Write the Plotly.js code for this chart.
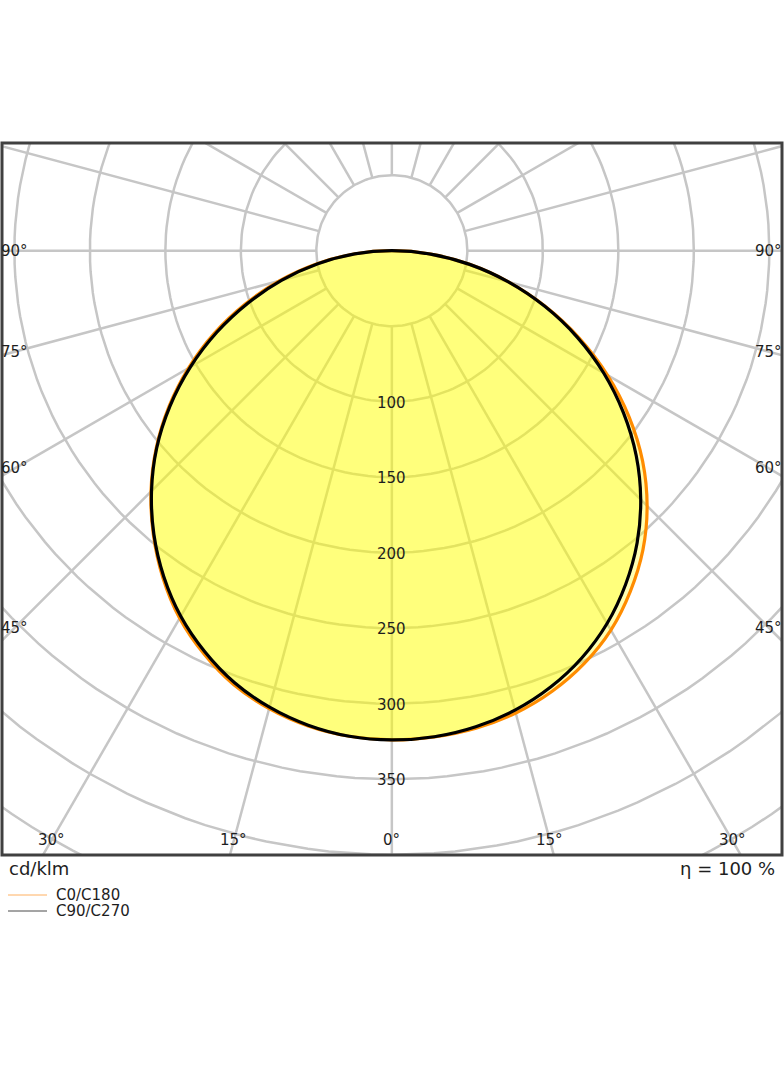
<!DOCTYPE html>
<html>
<head>
<meta charset="utf-8">
<script src="https://cdn.plot.ly/plotly-3.0.1.min.js"></script>
<style>
  html, body { margin: 0; padding: 0; background: #fff; }
</style>
</head>
<body>
<div id="graph" style="width:784px;height:1066px;"></div>
<script>
// Luminous intensity distribution, cd/klm
const GAMMA = [0, 5, 10, 15, 20, 25, 30, 35, 40, 45, 50, 55, 60, 65, 70, 75, 80, 85, 90];
const C0   = [324, 323.2, 321.1, 317, 310.5, 301.6, 290.1, 275.4, 258.7, 239.1, 216.8, 191.8, 165, 136.9, 108.3, 79.9, 52.3, 25.7, 0];
const C180 = [324, 322.8, 319.6, 314, 306, 294.6, 281.1, 264.4, 245.7, 225.6, 203.8, 180.3, 155.5, 129.9, 103.3, 76.9, 50.8, 25.2, 0];
const C90  = [324, 323.1, 320.1, 315, 307.5, 297.6, 285.1, 269.9, 252.7, 233.1, 211.3, 187.3, 162, 135.4, 107.8, 79.9, 52.3, 25.7, 0];
const C270 = [324, 322.8, 319.1, 313, 304.5, 293.1, 279.6, 263.4, 245.2, 225.1, 203.3, 179.3, 154, 127.9, 101.3, 75.4, 49.8, 24.7, 0];

// polar grid
const GRID_RADII = [50, 100, 150, 200, 250, 300, 350, 400, 450, 500, 550];
const GRID_ANGLES = [0, 15, 30, 45, 60, 75, 90, 105, 120, 135, 150, 165, 180,
                     195, 210, 225, 240, 255, 270, 285, 300, 315, 330, 345];
const RADIAL_LABELS = [100, 150, 200, 250, 300, 350];
const BOTTOM_ANGLE_LABELS = [0, 15, 30];
const SIDE_ANGLE_LABELS = [45, 60, 75, 90];
const UNIT_TEXT = 'cd/klm';
const ETA = 100;

const GRAPHDIV = document.getElementById('graph');
const GRID_COLOR = '#c6c6c6';
const TEXT_COLOR = '#1e1e1e';
const FONT = 'DejaVu Sans, sans-serif';

// visible window in cd/klm (origin at the lamp, gamma 0 pointing down)
const X_RANGE = [-258.2, 258.4];
const Y_RANGE = [-400.2, 71.3];

const rad = d => d * Math.PI / 180;

// gamma measured from nadir, side = -1 left half, +1 right half
function to_xy(gammas, values, side) {
    let X = [], Y = [];
    for (let i = 0; i < gammas.length; i++) {
        X.push(side * values[i] * Math.sin(rad(gammas[i])));
        Y.push(-values[i] * Math.cos(rad(gammas[i])));
    }
    return {X, Y};
}

// closed curve: left half from 90 down to 0, then right half up to 90
function plane_curve(leftValues, rightValues) {
    let left = to_xy(GAMMA.slice().reverse(), leftValues.slice().reverse(), -1);
    let right = to_xy(GAMMA, rightValues, 1);
    return {
        X: left.X.concat(right.X.slice(1)),
        Y: left.Y.concat(right.Y.slice(1))
    };
}

let data = [];

// grid circles
let gx = [], gy = [];
for (let r of GRID_RADII) {
    for (let a = 0; a <= 360; a += 2) {
        gx.push(r * Math.sin(rad(a)));
        gy.push(-r * Math.cos(rad(a)));
    }
    gx.push(null);
    gy.push(null);
}
// radial lines start on the 50 circle
let r0 = GRID_RADII[0], r1 = 1000;
for (let a of GRID_ANGLES) {
    gx.push(r0 * Math.sin(rad(a)), r1 * Math.sin(rad(a)), null);
    gy.push(-r0 * Math.cos(rad(a)), -r1 * Math.cos(rad(a)), null);
}
data.push({
    x: gx, y: gy,
    mode: 'lines',
    line: {color: GRID_COLOR, width: 2.5},
    hoverinfo: 'skip',
    showlegend: false
});

// C0/C180 then C90/C270 on top
let orange = plane_curve(C180, C0);
let black = plane_curve(C270, C90);
data.push({
    x: orange.X, y: orange.Y,
    mode: 'lines',
    fill: 'toself',
    fillcolor: 'rgba(255,255,0,0.3)',
    line: {color: '#ff8c00', width: 3.2, shape: 'spline', smoothing: 1},
    hoverinfo: 'skip',
    showlegend: false
});
data.push({
    x: black.X, y: black.Y,
    mode: 'lines',
    fill: 'toself',
    fillcolor: 'rgba(255,255,0,0.3)',
    line: {color: '#000000', width: 3.2, shape: 'spline', smoothing: 1},
    hoverinfo: 'skip',
    showlegend: false
});

// labels
let annotations = [];
for (let r of RADIAL_LABELS) {
    annotations.push({
        x: 0, y: -r, xref: 'x', yref: 'y',
        text: String(r), showarrow: false, yshift: -1,
        font: {family: FONT, size: 15, color: TEXT_COLOR}
    });
}
let yLab = Y_RANGE[0] + 15 / 1.51;
for (let a of BOTTOM_ANGLE_LABELS) {
    let sides = a === 0 ? [1] : [-1, 1];
    for (let s of sides) {
        annotations.push({
            x: s * (-yLab) * Math.tan(rad(a)), y: yLab, xref: 'x', yref: 'y',
            text: a + '°', showarrow: false,
            font: {family: FONT, size: 15, color: TEXT_COLOR}
        });
    }
}
let xLab = 249.6;
for (let a of SIDE_ANGLE_LABELS) {
    for (let s of [-1, 1]) {
        annotations.push({
            x: s * xLab, y: a === 90 ? 0 : -xLab / Math.tan(rad(a)), xref: 'x', yref: 'y',
            text: a + '°', showarrow: false,
            font: {family: FONT, size: 15, color: TEXT_COLOR}
        });
    }
}

// pixel helpers for the frame/legend area below the plot
const px2x = px => (px - 2) / 780;
const py2y = py => (855 - py) / 712;

annotations.push({
    x: px2x(7), y: py2y(868), xref: 'paper', yref: 'paper',
    xanchor: 'left', yanchor: 'middle', showarrow: false,
    text: UNIT_TEXT, font: {family: FONT, size: 18, color: TEXT_COLOR}
});
annotations.push({
    x: px2x(777), y: py2y(868), xref: 'paper', yref: 'paper',
    xanchor: 'right', yanchor: 'middle', showarrow: false,
    text: 'η = ' + ETA + ' %', font: {family: FONT, size: 18, color: TEXT_COLOR}
});

// hand drawn legend (thin lines like the original)
const LEGEND = [
    {name: 'C0/C180', color: '#ffb060', py: 895},
    {name: 'C90/C270', color: '#4a4a4a', py: 911}
];
let shapes = [{
    type: 'rect', xref: 'paper', yref: 'paper',
    x0: 0, x1: 1, y0: 0, y1: 1,
    line: {color: '#404040', width: 3}
}];
for (let item of LEGEND) {
    shapes.push({
        type: 'line', xref: 'paper', yref: 'paper',
        x0: px2x(8), x1: px2x(47), y0: py2y(item.py), y1: py2y(item.py),
        line: {color: item.color, width: 1}
    });
    annotations.push({
        x: px2x(54), y: py2y(item.py), xref: 'paper', yref: 'paper',
        xanchor: 'left', yanchor: 'middle', showarrow: false,
        text: item.name, font: {family: FONT, size: 15, color: TEXT_COLOR}
    });
}

const LAYOUT = {
    width: 784,
    height: 1066,
    margin: {l: 2, r: 2, t: 143, b: 211, pad: 0},
    paper_bgcolor: '#ffffff',
    plot_bgcolor: '#ffffff',
    showlegend: false,
    xaxis: {range: X_RANGE, visible: false, fixedrange: true},
    yaxis: {range: Y_RANGE, visible: false, fixedrange: true},
    annotations: annotations,
    shapes: shapes
};

Plotly.newPlot(GRAPHDIV, data, LAYOUT, {staticPlot: true, displayModeBar: false});
</script>
</body>
</html>
